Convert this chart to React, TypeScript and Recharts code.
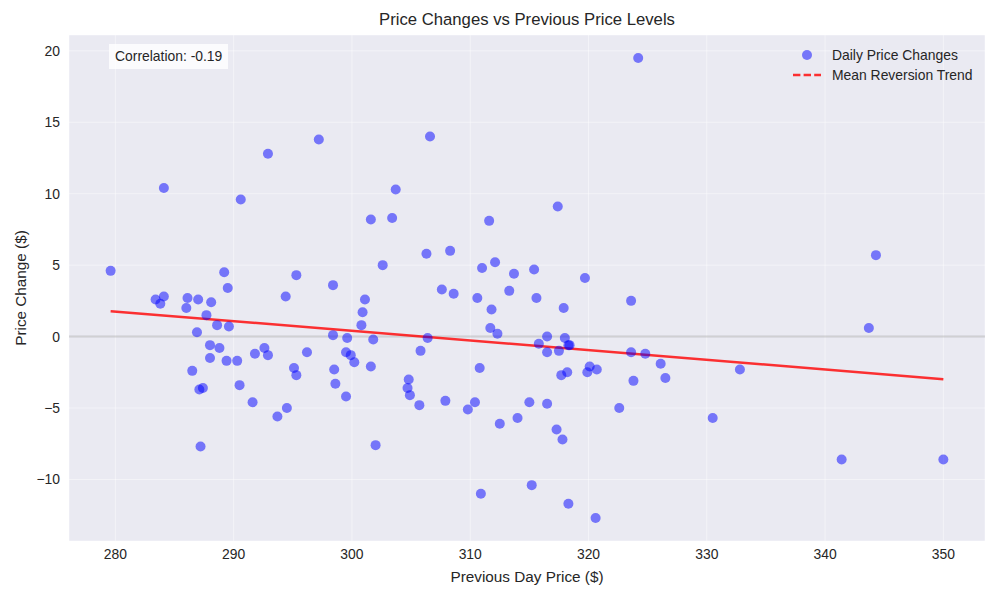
import React from "react";
import {
  ScatterChart,
  Scatter,
  XAxis,
  YAxis,
  CartesianGrid,
  ReferenceLine,
  Legend,
} from "recharts";

// previous day price / price change pairs
const prevPrice = [
  279.6, 284.1, 289.2, 289.5, 290.6, 292.9, 295.3, 297.2, 298.4, 301.6,
  302.6, 303.4, 324.2, 306.6, 303.7, 317.4, 311.6, 306.3, 308.3, 311.0,
  312.1, 313.7, 315.4, 319.7, 307.6, 308.6, 310.6, 313.3, 315.6, 323.6,
  311.8, 317.9, 311.7, 312.3, 306.4, 305.8, 316.5, 318.0, 315.8, 318.4,
  318.3, 316.5, 317.5, 323.6, 324.8, 326.1, 326.5, 323.8, 310.8, 320.1,
  319.9, 320.7, 318.2, 317.7, 304.8, 304.7, 304.9, 305.7, 307.9, 309.8,
  310.4, 315.0, 316.5, 322.6, 312.5, 314.0, 317.3, 317.8, 302.0, 310.9,
  315.2, 318.3, 320.6, 283.4, 284.1, 283.8, 286.1, 287.0, 288.1, 286.0,
  294.4, 301.1, 300.9, 300.8, 287.7, 288.6, 289.6, 286.9, 298.4, 299.6,
  301.8, 288.0, 288.8, 292.6, 291.8, 292.9, 296.2, 299.5, 299.9, 300.2,
  288.0, 289.4, 290.3, 301.6, 286.5, 295.1, 295.3, 298.5, 298.6, 287.1,
  287.4, 290.5, 291.6, 299.5, 293.7, 294.5, 287.2, 332.8, 330.5, 343.7,
  341.4, 350.0, 344.3,
];
const priceChange = [
  4.6, 10.4, 4.5, 3.4, 9.6, 12.8, 4.3, 13.8, 3.6, 8.2,
  5.0, 8.3, 19.5, 14.0, 10.3, 9.1, 8.1, 5.8, 6.0, 4.8,
  5.2, 4.4, 4.7, 4.1, 3.3, 3.0, 2.7, 3.2, 2.7, 2.5,
  1.9, 2.0, 0.6, 0.2, -0.1, -1.0, 0.0, -0.1, -0.5, -0.6,
  -0.6, -1.1, -1.0, -1.1, -1.2, -1.9, -2.9, -3.1, -2.2, -2.1,
  -2.5, -2.3, -2.5, -2.7, -3.0, -3.6, -4.1, -4.8, -4.5, -5.1,
  -4.6, -4.6, -4.7, -5.0, -6.1, -5.7, -6.5, -7.2, -7.6, -11.0,
  -10.4, -11.7, -12.7, 2.6, 2.8, 2.3, 2.7, 2.6, 2.4, 2.0,
  2.8, 2.6, 1.7, 0.8, 1.5, 0.8, 0.7, 0.3, 0.1, -0.1,
  -0.2, -0.6, -0.8, -0.8, -1.2, -1.3, -1.1, -1.1, -1.3, -1.8,
  -1.5, -1.7, -1.7, -2.1, -2.4, -2.2, -2.7, -2.3, -3.3, -3.7,
  -3.6, -3.4, -4.6, -4.2, -5.6, -5.0, -7.7, -2.3, -5.7, 0.6,
  -8.6, -8.6, 5.7,
];

// trend line end points
const trendX = [279.6, 350.0];
const trendY = [1.78, -2.98];

const xTicks = [280, 290, 300, 310, 320, 330, 340, 350];
const yTicks = [-10, -5, 0, 5, 10, 15, 20];

const points = prevPrice.map((x, i) => ({ x, y: priceChange[i] }));
const trend = trendX.map((x, i) => ({ x, y: trendY[i] }));

const FONT = "'Liberation Sans', Arial, sans-serif";
const TEXT = "#262626";

const fmt = (v: number) => String(v).replace("-", "\u2212");

const Dot = (props: any) => (
  <circle cx={props.cx} cy={props.cy} r={5} fill="#0000ff" fillOpacity={0.5} />
);

const renderLegend = () => (
  <div style={{ fontFamily: FONT, fontSize: 13.9, color: TEXT }}>
    <div style={{ height: 20, display: "flex", alignItems: "center" }}>
      <svg width={40} height={20}>
        <circle cx={19} cy={10} r={5} fill="#0000ff" fillOpacity={0.5} />
      </svg>
      <span style={{ marginLeft: 4 }}>Daily Price Changes</span>
    </div>
    <div style={{ height: 20, display: "flex", alignItems: "center" }}>
      <svg width={40} height={20}>
        <line x1={5} y1={10} x2={33} y2={10} stroke="#ff0000" strokeOpacity={0.8}
          strokeWidth={2.5} strokeDasharray="7.4 3.2" />
      </svg>
      <span style={{ marginLeft: 4 }}>Mean Reversion Trend</span>
    </div>
  </div>
);

export default function App() {
  return (
    <div style={{ position: "absolute", left: 0, top: 0, width: 1000, height: 600, background: "#fff", fontFamily: FONT }}>
      <div style={{ position: "absolute", left: 69, top: 10, width: 916, textAlign: "center", fontSize: 16.7, lineHeight: "20px", color: TEXT }}>
        Price Changes vs Previous Price Levels
      </div>
      <ScatterChart width={1000} height={600} margin={{ top: 35, right: 15, bottom: 29, left: 19 }}>
        <CartesianGrid stroke="#ffffff" strokeOpacity={0.45} strokeWidth={1} fill="#eaeaf2" />
        <XAxis
          type="number"
          dataKey="x"
          domain={[276.08, 353.52]}
          ticks={xTicks}
          allowDataOverflow
          axisLine={false}
          tickLine={false}
          tickSize={0}
          tickMargin={8}
          height={30}
          tickFormatter={fmt}
          tick={{ fontSize: 13.9, fill: TEXT, fontFamily: FONT }}
        />
        <YAxis
          type="number"
          dataKey="y"
          domain={[-14.31, 21.11]}
          ticks={yTicks}
          allowDataOverflow
          axisLine={false}
          tickLine={false}
          tickSize={0}
          tickMargin={9}
          width={50}
          tickFormatter={fmt}
          tick={{ fontSize: 13.9, fill: TEXT, fontFamily: FONT }}
        />
        <ReferenceLine y={0} stroke="#808080" strokeOpacity={0.3} strokeWidth={2} />
        <Scatter
          name="Mean Reversion Trend"
          data={trend}
          line={{ stroke: "#ff0000", strokeOpacity: 0.8, strokeWidth: 2.5 }}
          shape={() => <g />}
          isAnimationActive={false}
        />
        <Scatter name="Daily Price Changes" data={points} shape={Dot} isAnimationActive={false} />
        <Legend
          layout="vertical"
          align="center"
          verticalAlign="middle"
          content={renderLegend}
          wrapperStyle={{ position: "absolute", top: 44.5, left: 788, width: 200 }}
        />
      </ScatterChart>
      <div style={{ position: "absolute", left: 109, top: 44, width: 119, height: 25, background: "rgba(255,255,255,0.8)", fontSize: 13.9, lineHeight: "25px", color: TEXT, paddingLeft: 6, boxSizing: "border-box", whiteSpace: "nowrap" }}>
        Correlation: -0.19
      </div>
      <div style={{ position: "absolute", left: 527, top: 577, transform: "translate(-50%, -50%)", fontSize: 15.3, color: TEXT, whiteSpace: "nowrap" }}>
        Previous Day Price ($)
      </div>
      <div style={{ position: "absolute", left: 21, top: 288, transform: "translate(-50%, -50%) rotate(-90deg)", fontSize: 15.3, color: TEXT, whiteSpace: "nowrap" }}>
        Price Change ($)
      </div>
    </div>
  );
}
